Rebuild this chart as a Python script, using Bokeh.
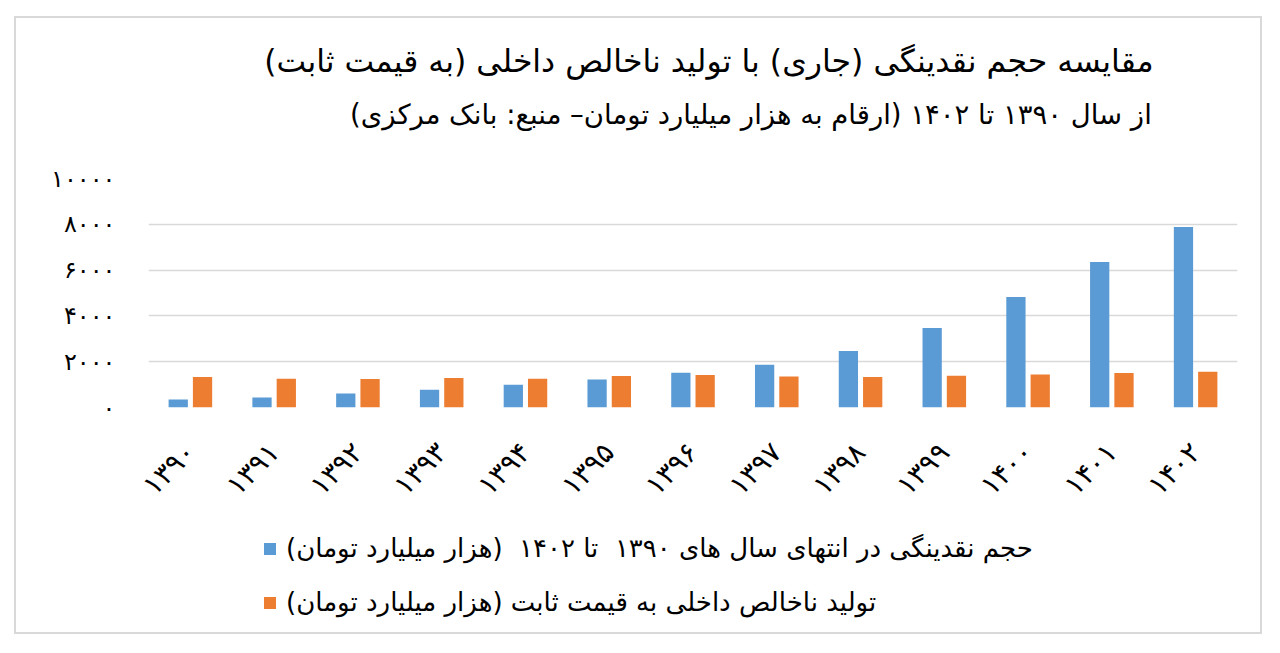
import math
from bokeh.plotting import figure
from bokeh.layouts import column
from bokeh.models import (ColumnDataSource, FactorRange, Range1d, FixedTicker,
                          CustomJSTickFormatter, Legend, LegendItem, Title)
from bokeh.transform import dodge
from bokeh.embed import file_html
from bokeh.resources import INLINE

# ---- data ----
years = ["۱۳۹۰", "۱۳۹۱", "۱۳۹۲", "۱۳۹۳", "۱۳۹۴", "۱۳۹۵", "۱۳۹۶",
         "۱۳۹۷", "۱۳۹۸", "۱۳۹۹", "۱۴۰۰", "۱۴۰۱", "۱۴۰۲"]
liquidity = [349, 437, 611, 775, 993, 1225, 1515, 1865, 2463, 3467, 4821, 6349, 7878]
gdp_constant = [1327, 1253, 1240, 1285, 1256, 1374, 1415, 1354, 1327, 1384, 1441, 1502, 1559]
y_ticks = [0, 2000, 4000, 6000, 8000, 10000]

title_text = "مقایسه حجم نقدینگی (جاری) با تولید ناخالص داخلی (به قیمت ثابت)"
subtitle_text = "از سال ۱۳۹۰  تا ۱۴۰۲ (ارقام به هزار میلیارد تومان– منبع: بانک مرکزی)"
legend_liquidity = "حجم نقدینگی در انتهای سال های ۱۳۹۰  تا ۱۴۰۲  (هزار میلیارد تومان)"
legend_gdp = "تولید ناخالص داخلی به قیمت ثابت (هزار میلیارد تومان)"

FONT = "DejaVu Sans"
BLUE = "#5b9bd5"
ORANGE = "#ed7d31"


def rtl(s):
    return "\u200f" + s + "\u200f"


src = ColumnDataSource(dict(year=years, liq=liquidity, gdp=gdp_constant))

# ---------------- main chart ----------------
p = figure(x_range=FactorRange(factors=years, range_padding=0),
           y_range=Range1d(0, 10000),
           width=1244, height=514,
           output_backend="svg", toolbar_location=None,
           min_border_left=132, min_border_right=23,
           min_border_top=160, min_border_bottom=125)
p.outline_line_color = None
p.background_fill_color = "white"
p.border_fill_color = "white"

p.vbar(x=dodge("year", -0.145, range=p.x_range), top="liq", width=0.23,
       source=src, fill_color=BLUE, line_color=None)
p.vbar(x=dodge("year", 0.145, range=p.x_range), top="gdp", width=0.23,
       source=src, fill_color=ORANGE, line_color=None)

p.xgrid.grid_line_color = None
p.ygrid.grid_line_color = "#d9d9d9"
p.ygrid.grid_line_width = 1.5
p.yaxis.ticker = FixedTicker(ticks=y_ticks)
p.yaxis.formatter = CustomJSTickFormatter(code="""
const d = '۰۱۲۳۴۵۶۷۸۹';
return String(Math.round(tick)).replace(/[0-9]/g, c => d[+c]);
""")
for ax in (p.xaxis, p.yaxis):
    ax.axis_line_color = None
    ax.major_tick_line_color = None
    ax.minor_tick_line_color = None
    ax.major_label_text_font = FONT
    ax.major_label_text_color = "#000000"
p.yaxis.major_label_text_font_size = "24px"
p.yaxis.major_label_standoff = 27
p.xaxis.major_label_text_font_size = "28px"
p.xaxis.major_label_orientation = math.pi / 4
p.xaxis.major_label_standoff = 34

# titles: spacer (closest to frame), subtitle, then main title (outermost)
p.add_layout(Title(text=" ", text_font=FONT, text_font_size="10px", standoff=27),
             "above")
p.add_layout(Title(text=rtl(subtitle_text), align="right", offset=77,
                   text_font=FONT, text_font_size="27.5px", text_font_style="normal",
                   text_color="#000000", standoff=17), "above")
p.title.text = rtl(title_text)
p.title.align = "right"
p.title.offset = 84
p.title.standoff = 18
p.title.text_font = FONT
p.title.text_font_size = "31.5px"
p.title.text_font_style = "normal"
p.title.text_color = "#000000"

# ---------------- legend strip (legend swatches only; collapsed bars outside its view) ----------------
lg = figure(width=1244, height=100, x_range=p.x_range, y_range=Range1d(-30000, -20000),
            output_backend="svg", toolbar_location=None,
            x_axis_type=None, y_axis_type=None,
            min_border=0, min_border_left=0, min_border_right=0,
            min_border_top=0, min_border_bottom=0)
lg.outline_line_color = None
lg.grid.visible = False
lg.background_fill_color = "white"
lg.border_fill_color = "white"
d1 = lg.vbar(x="year", top="liq", bottom="liq", width=0,
             source=src, fill_color=BLUE, line_color=None)
d2 = lg.vbar(x="year", top="gdp", bottom="gdp", width=0,
             source=src, fill_color=ORANGE, line_color=None)

legend = Legend(items=[LegendItem(label=rtl(legend_liquidity), renderers=[d1]),
                       LegendItem(label=rtl(legend_gdp), renderers=[d2])],
                location=(114, 15), orientation="vertical",
                glyph_width=15, glyph_height=15, label_height=28, spacing=24,
                padding=0, margin=0, label_standoff=9,
                label_text_font=FONT, label_text_font_size="26px",
                label_text_color="#000000",
                border_line_color=None, background_fill_alpha=0)
lg.add_layout(legend, "center")

layout = column(p, lg, spacing=0, margin=(16, 0, 0, 14),
                styles={"border": "2px solid #d9d9d9", "background": "white"})

open("out.html", "w").write(file_html(layout, INLINE))
